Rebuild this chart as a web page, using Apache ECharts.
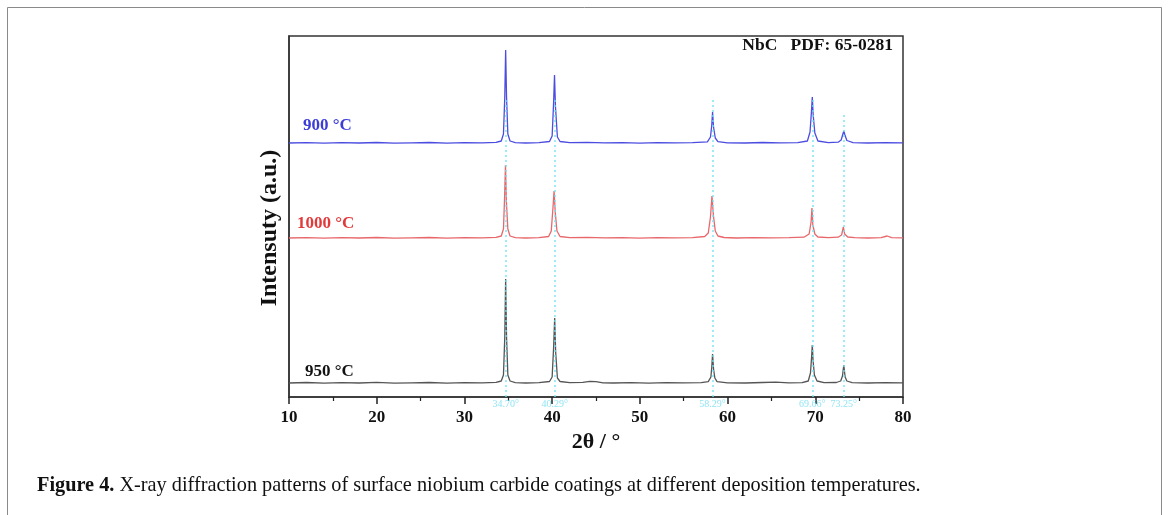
<!DOCTYPE html>
<html>
<head>
<meta charset="utf-8">
<script src="https://cdn.jsdelivr.net/npm/echarts@6/dist/echarts.min.js"></script>
<style>
  html, body { margin: 0; padding: 0; background: #fff; }
  #main { width: 1169px; height: 515px; }
</style>
</head>
<body>
<div id="main"></div>
<script>
// x ticks
var xTicks = [10, 20, 30, 40, 50, 60, 70, 80];

// NbC reference peaks (2theta) and their labels
var peakPos = [34.70, 40.29, 58.29, 69.66, 73.25];
var peakNames = ['34.70°', '40.29°', '58.29°', '69.66°', '73.25°'];

// 950 °C pattern (shifted, arbitrary units)
var xrd950 = [
  [10, 14], [12, 14.5], [14, 13.8], [16, 14.3], [18, 14], [20, 14.6], [22, 13.9], [24, 14.2],
  [26, 14.5], [28, 13.8], [30, 14.3], [32, 14.1], [33.6, 14.6], [34.2, 16], [34.45, 22],
  [34.6, 60], [34.7, 118], [34.8, 60], [34.95, 22], [35.2, 16], [35.8, 14.4], [37, 14],
  [38.5, 14.3], [39.7, 15.5], [40.0, 20], [40.17, 50], [40.29, 79], [40.4, 45], [40.6, 19],
  [40.9, 15.5], [42, 14.3], [43.5, 14.6], [44.3, 15.6], [45, 15.3], [45.8, 14.2], [47, 14],
  [49, 14.4], [51, 13.8], [53, 14.3], [55, 14.1], [57, 14.4], [57.8, 15.4], [58.1, 20],
  [58.2, 30], [58.29, 43], [58.4, 28], [58.55, 19], [58.8, 15.3], [60, 14.2], [62, 14],
  [64, 14.5], [65.5, 14.8], [67, 14.1], [68.5, 14.3], [69.2, 16], [69.45, 24], [69.58, 40],
  [69.66, 52], [69.75, 36], [69.9, 22], [70.2, 16], [71, 14.3], [72.4, 14.5], [72.9, 16],
  [73.1, 21], [73.25, 32], [73.4, 20], [73.6, 16], [74.2, 14.4], [76, 14], [78, 14.3], [80, 14.1]
];

// 1000 °C pattern
var xrd1000 = [
  [10, 159], [12, 159.4], [14, 158.8], [16, 159.3], [18, 159], [20, 159.5], [22, 158.9],
  [24, 159.2], [26, 159.5], [28, 158.9], [30, 159.3], [32, 159.1], [33.6, 159.6], [34.2, 161],
  [34.45, 168], [34.58, 200], [34.68, 232], [34.78, 196], [34.95, 168], [35.2, 161], [35.8, 159.4],
  [37, 159], [38.5, 159.3], [39.6, 160.5], [39.9, 166], [40.1, 190], [40.22, 206], [40.35, 185],
  [40.55, 166], [40.9, 160.5], [42, 159.3], [44, 159.6], [46, 159.1], [48, 159.4], [50, 158.9],
  [52, 159.3], [54, 159.1], [56, 159.4], [57.4, 160.5], [57.8, 164], [58.05, 180], [58.22, 201],
  [58.38, 182], [58.6, 166], [58.9, 161], [59.6, 159.5], [61, 159], [63, 159.4], [65, 159.1],
  [67, 159.3], [68.7, 159.8], [69.3, 163], [69.52, 175], [69.62, 189], [69.72, 172], [69.95, 163],
  [70.3, 160], [71.5, 159.3], [72.6, 159.8], [73.0, 162], [73.2, 170], [73.35, 163], [73.7, 160],
  [74.5, 159.3], [76, 159], [77.5, 159.4], [78.2, 161], [78.7, 159.4], [80, 159.1]
];

// 900 °C pattern
var xrd900 = [
  [10, 254], [12, 254.4], [14, 253.8], [16, 254.3], [18, 254], [20, 254.5], [22, 253.9],
  [24, 254.2], [26, 254.5], [28, 253.9], [30, 254.3], [32, 254.1], [33.6, 254.6], [34.2, 256],
  [34.45, 263], [34.6, 300], [34.7, 347], [34.8, 300], [34.95, 263], [35.2, 256], [35.8, 254.4],
  [37, 254], [38.5, 254.3], [39.7, 255.5], [40.0, 261], [40.17, 295], [40.27, 322], [40.38, 290],
  [40.6, 260], [40.9, 255.5], [42, 254.3], [44, 254.6], [46, 254.1], [48, 254.4], [50, 253.9],
  [52, 254.3], [54, 254.1], [56, 254.4], [57.7, 255.2], [58.05, 260], [58.2, 272], [58.29, 285],
  [58.4, 270], [58.6, 259], [58.9, 255.3], [60, 254.2], [62, 254], [64, 254.5], [66, 254.1],
  [68, 254.3], [69.1, 256], [69.4, 265], [69.56, 285], [69.66, 300], [69.76, 282], [69.95, 264],
  [70.3, 256], [71.5, 254.3], [72.6, 254.8], [72.95, 257], [73.15, 263], [73.25, 266], [73.38, 262],
  [73.6, 256.5], [74.3, 254.4], [76, 254], [78, 254.3], [80, 254.1]
];

var serif = '"Liberation Serif", "DejaVu Serif", serif';

var chart = echarts.init(document.getElementById('main'), null, { renderer: 'canvas' });

var peakLines = peakPos.map(function (p, i) {
  return [
    { coord: [p, 0], name: peakNames[i] },
    { coord: [p, i === 4 ? 285 : 297] }
  ];
});

chart.setOption({
  backgroundColor: '#fff',
  animation: false,
  grid: {
    left: 289, right: 266, top: 36, height: 361,
    show: true, borderColor: '#333', borderWidth: 1.5, backgroundColor: 'transparent'
  },
  xAxis: {
    type: 'value', min: xTicks[0], max: xTicks[xTicks.length - 1], interval: 10,
    name: '2θ / °', nameLocation: 'middle', nameGap: 20,
    nameTextStyle: { fontFamily: serif, fontWeight: 'bold', fontSize: 22, color: '#111' },
    axisLine: { lineStyle: { color: '#333', width: 1.5 } },
    axisTick: { show: true, inside: false, length: 7, lineStyle: { color: '#222', width: 1.5 } },
    minorTick: { show: true, splitNumber: 2, length: 4, lineStyle: { color: '#222', width: 1.2 } },
    axisLabel: { fontFamily: serif, fontWeight: 'bold', fontSize: 17, color: '#111', margin: 12 },
    splitLine: { show: false }
  },
  yAxis: {
    type: 'value', min: 0, max: 361,
    axisLine: { show: true, lineStyle: { color: '#333', width: 1.5 } },
    axisTick: { show: false },
    axisLabel: { show: false },
    splitLine: { show: false }
  },
  series: [
    {
      name: '950 °C', type: 'line', data: xrd950, showSymbol: false, clip: false,
      lineStyle: { color: '#555', width: 1.3 }, z: 3,
      markLine: {
        silent: true, symbol: ['none', 'none'], z: 5,
        lineStyle: { color: '#6fe3f3', type: [2, 3], width: 1.6, opacity: 0.85 },
        label: {
          show: true, position: 'start', distance: 2, formatter: '{b}',
          fontFamily: serif, fontSize: 10, color: '#7fe0f2'
        },
        data: peakLines
      }
    },
    {
      name: '1000 °C', type: 'line', data: xrd1000, showSymbol: false,
      lineStyle: { color: '#e8676b', width: 1.3 }, z: 3
    },
    {
      name: '900 °C', type: 'line', data: xrd900, showSymbol: false,
      lineStyle: { color: '#4c4ce0', width: 1.3 }, z: 3
    }
  ],
  graphic: [
    {
      type: 'rect', z: -10, silent: true,
      shape: { x: 7.5, y: 7.5, width: 1154, height: 520 },
      style: { fill: 'none', stroke: '#8a8a8a', lineWidth: 1 }
    },
    {
      // y axis title, sits a bit below the axis middle in the original
      type: 'text', x: 270, y: 228, rotation: Math.PI / 2,
      style: {
        text: 'Intensuty (a.u.)', fill: '#111', font: 'bold 24px ' + serif,
        align: 'center', verticalAlign: 'middle'
      }
    },
    {
      type: 'text', left: 303, top: 117,
      style: { text: '900 °C', fill: '#3c3cd8', font: 'bold 17px ' + serif }
    },
    {
      type: 'text', left: 297, top: 215,
      style: { text: '1000 °C', fill: '#e23a3a', font: 'bold 17px ' + serif }
    },
    {
      type: 'text', left: 305, top: 363,
      style: { text: '950 °C', fill: '#111', font: 'bold 17px ' + serif }
    },
    {
      type: 'text', right: 276, top: 36,
      style: { text: 'NbC   PDF: 65-0281', fill: '#111', font: 'bold 17.5px ' + serif }
    },
    {
      type: 'text', left: 37, top: 476,
      style: {
        text: '{b|Figure 4.} X-ray diffraction patterns of surface niobium carbide coatings at different deposition temperatures.',
        font: '20.3px ' + serif, fill: '#111',
        rich: { b: { fontWeight: 'bold', fontFamily: serif, fontSize: 20.3, fill: '#111' } }
      }
    }
  ]
});
</script>
</body>
</html>
